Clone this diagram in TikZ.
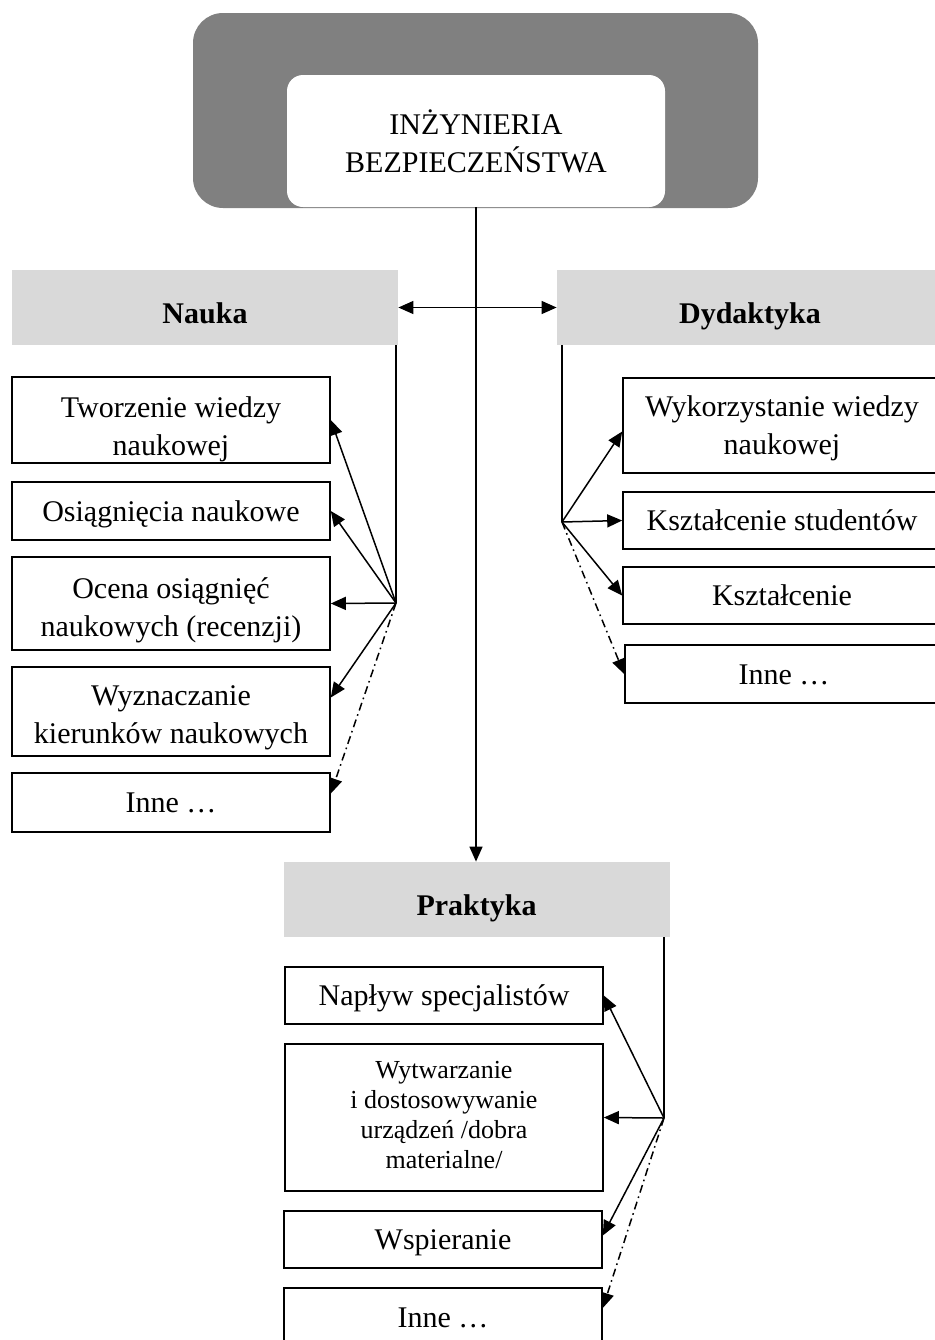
\documentclass[tikz,border=0pt]{standalone}
\usepackage{fontspec}
\setmainfont{Liberation Serif}
\usetikzlibrary{arrows.meta}

\definecolor{framegray}{HTML}{808080}
\definecolor{headgray}{HTML}{D9D9D9}
\newcommand\wstrut{\rule[-0.216em]{0pt}{1.107em}}
\newcommand\toppad[1]{\rule{0pt}{#1}}

\begin{document}
\begin{tikzpicture}[x=0.5pt,y=-0.5pt,>={Triangle[length=7.5pt,width=6.5pt]},
  every node/.style={font=\fontsize{15}{19}\selectfont, align=center, inner sep=0pt},
  head/.style={fill=headgray, minimum width=193pt, minimum height=37.5pt,
    text height=16pt, text depth=0pt, font=\fontsize{15}{19}\selectfont\bfseries},
  item/.style={draw, line width=0.8pt, minimum width=159pt,
    execute at begin node=\wstrut, execute at end node=\wstrut},
  line/.style={line width=0.75pt},
  link/.style={line, ->},
  other/.style={link, dash pattern=on 4pt off 2pt on 0.8pt off 2pt}]
  \useasboundingbox (0,0) rectangle (934,1340);

  % top
  \fill[framegray, rounded corners=15pt] (193,13) rectangle (758,208);
  \node[fill=white, rounded corners=8pt, minimum width=189pt, minimum height=66pt] (ing) at (476,141)
    {INŻYNIERIA\\BEZPIECZEŃSTWA};

  % headers
  \node[head] (nauka) at (205,307.5) {Nauka};
  \node[head] (dyd) at (750,307.5) {Dydaktyka};
  \node[head] (prak) at (476.5,899.5) {Praktyka};

  % Nauka
  \node[item, minimum height=43pt] (n1) at (171,420) {\toppad{20pt}Tworzenie wiedzy\\naukowej};
  \node[item, minimum height=29pt] (n2) at (171,511) {Osiągnięcia naukowe};
  \node[item, minimum height=46.5pt] (n3) at (171,603.5) {\toppad{17pt}Ocena osiągnięć\\naukowych (recenzji)};
  \node[item, minimum height=44.5pt] (n4) at (171,711.5) {\toppad{16pt}Wyznaczanie\\kierunków naukowych};
  \node[item, minimum height=29.5pt] (n5) at (171,802.5) {Inne …};

  % Dydaktyka
  \node[item, minimum height=47.5pt] (d1) at (782,425.5) {\toppad{13pt}Wykorzystanie wiedzy\\naukowej};
  \node[item, minimum height=28.5pt] (d2) at (782,520.5) {Kształcenie studentów};
  \node[item, minimum height=28.5pt] (d3) at (782,595.5) {Kształcenie};
  \node[item, minimum height=29pt] (d4) at (784,674) {Inne …};

  % Praktyka
  \node[item, minimum height=28.5pt] (p1) at (444,995.5) {Napływ specjalistów};
  \node[item, minimum height=73.5pt, font=\fontsize{13}{15}\selectfont] (p2) at (444,1117.5)
    {Wytwarzanie\\i dostosowywanie\\urządzeń /dobra\\materialne/};
  \node[item, minimum height=28.5pt] (p3) at (443,1239.5) {Wspieranie};
  \node[item, minimum height=29pt] (p4) at (443,1317) {Inne …};

  % main links
  \draw[line, <->] (nauka.east) -- (dyd.west);
  \draw[link] (ing.south) -- (ing.south |- prak.north);

  % fans
  \coordinate (nfan) at (396,603);
  \coordinate (dfan) at (562,522);
  \coordinate (pfan) at (664,1118);
  \draw[line] (nauka.south -| nfan) -- (nfan);
  \draw[line] (dyd.south -| dfan) -- (dfan);
  \draw[line] (prak.south -| pfan) -- (pfan);

  \foreach \t in {n1,n2,n3} \draw[link] (nfan) -- (\t.east);
  \draw[link] (nfan) -- ([yshift=7pt]n4.east);
  \draw[other] (nfan) -- ([yshift=4.5pt]n5.east);

  \draw[link] (dfan) -- ([yshift=-3pt]d1.west);
  \foreach \t in {d2,d3} \draw[link] (dfan) -- (\t.west);
  \draw[other] (dfan) -- (d4.west);

  \foreach \t in {p1,p2} \draw[link] (pfan) -- (\t.east);
  \draw[link] (pfan) -- ([yshift=2pt]p3.east);
  \draw[other] (pfan) -- ([yshift=4.5pt]p4.east);
\end{tikzpicture}
\end{document}
